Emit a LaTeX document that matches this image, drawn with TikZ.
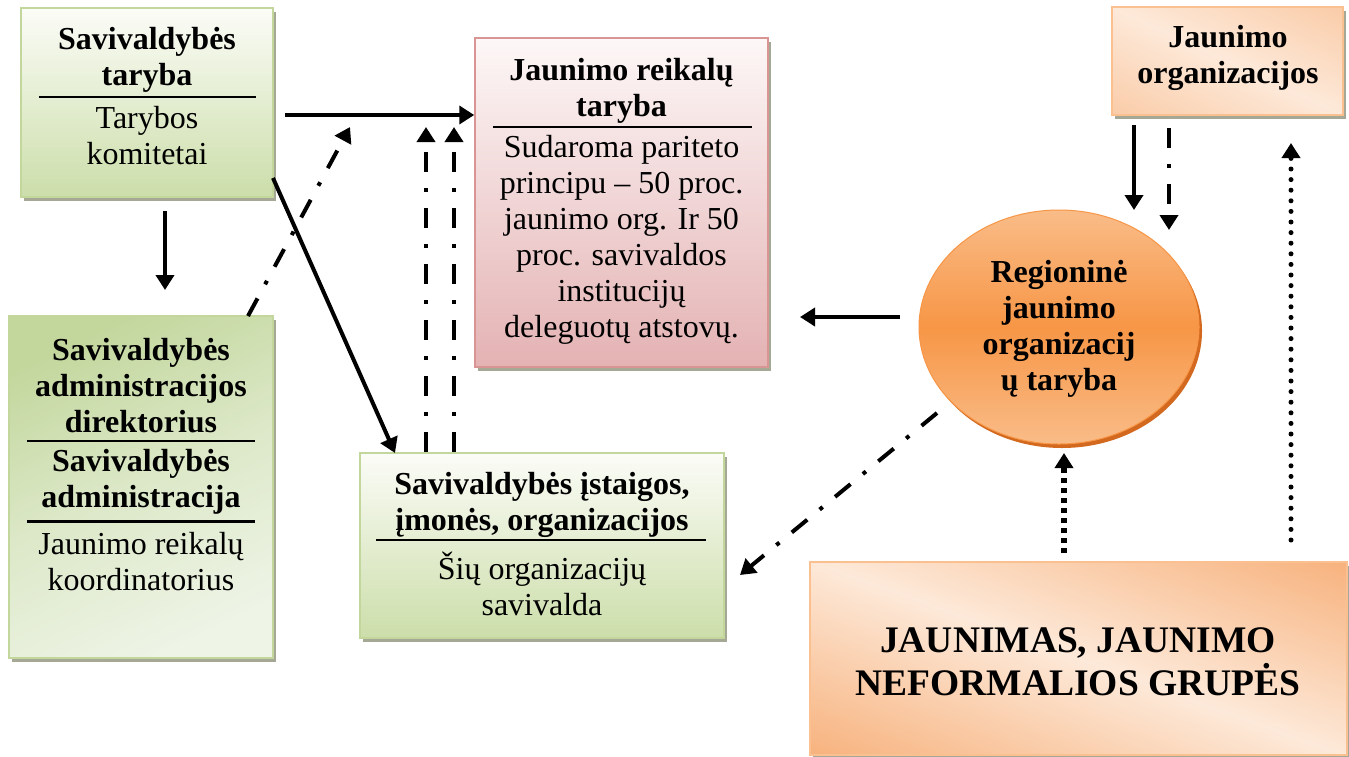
\documentclass[tikz,border=0pt]{standalone}
\usepackage{fontspec}
\setmainfont{Liberation Serif}
\usetikzlibrary{arrows.meta,shadows,shapes.geometric}
\definecolor{grBord}{HTML}{C3D69B}
\definecolor{grTop}{HTML}{FBFCF7}
\definecolor{grBot}{HTML}{CCDEAA}
\definecolor{grDark}{HTML}{C3D79D}
\definecolor{grLight}{HTML}{EEF4E6}
\definecolor{pkBord}{HTML}{D99594}
\definecolor{pkTop}{HTML}{FDF7F7}
\definecolor{pkBot}{HTML}{E4B2B3}
\definecolor{orBord}{HTML}{FAC090}
\definecolor{orLight}{HTML}{FDE9D9}
\definecolor{orMid}{HTML}{F9C79D}
\definecolor{orDark}{HTML}{F7B07A}
\definecolor{elMid}{HTML}{F79646}
\definecolor{elOut}{HTML}{F9BC88}
\definecolor{elRim}{HTML}{D2691E}
\definecolor{shd}{HTML}{A6A896}
\newcommand\mytxt{\fontsize{32}{36}\selectfont}
\newcommand\mybig{\fontsize{37.5}{43}\selectfont}
\begin{document}
\begin{tikzpicture}[x=1pt,y=-1pt,
  box/.style={rectangle, line width=1.5pt, inner sep=0pt,
    drop shadow={shadow xshift=3pt,shadow yshift=-4pt,fill=shd,opacity=1}},
  gbox/.style={box, draw=grBord, top color=grTop, bottom color=grBot},
  pbox/.style={box, draw=pkBord, top color=pkTop, bottom color=pkBot},
  obox/.style={box, draw=orBord},
  band/.style={fill=orDark, path picture={
      \begin{scope}[transform canvas={rotate around={#1:(path picture bounding box.center)}}]
      \shade[top color=orDark, bottom color=orDark, middle color=orLight]
        ([shift={(-500pt,-190pt)}]path picture bounding box.center) rectangle
        ([shift={(500pt,190pt)}]path picture bounding box.center);
      \end{scope}}},
  txt/.style={align=center, inner sep=0pt, font=\mytxt},
  htxt/.style={align=center, inner sep=0pt, font=\mytxt\bfseries},
  sep/.style={line width=2pt},
  tip/.style={-{Triangle[length=15pt,width=18pt]}},
  arr/.style={tip, line width=4pt},
  dd/.style={arr, dash pattern=on 20pt off 16pt on 4pt off 16pt},
  rdot/.style={tip, line width=5pt, line cap=round, dash pattern=on 0pt off 10.6pt},
  sdot/.style={tip, line width=6pt, dash pattern=on 5pt off 5pt}]
\useasboundingbox (0,0) rectangle (1349,756);
\fill[white] (0,0) rectangle (1349,756);

% boxes
\node[gbox, minimum width=252pt, minimum height=189pt] (b1) at (147,102.5) {};
\node[pbox, minimum width=293pt, minimum height=329pt] (jrt) at (621.5,202.5) {};
\node[box, draw=grBord, top color=grDark, bottom color=grLight, middle color=grLight!60!grDark,
      shading angle=25, minimum width=264pt, minimum height=342pt] (b3) at (141,487) {};
\node[gbox, minimum width=364pt, minimum height=185pt] (b4) at (542,545.5) {};
\node[obox, band=-25, minimum width=231pt, minimum height=108pt] (b5) at (1227.5,61) {};
\node[ellipse, draw=elMid, line width=1pt, top color=elOut, bottom color=elOut, middle color=elMid,
      drop shadow={shadow xshift=3pt,shadow yshift=-4pt,fill=elRim,opacity=1},
      minimum width=280pt, minimum height=234pt] (ell) at (1059,327) {};
\node[obox, band=-20, minimum width=537pt, minimum height=193pt] (b6) at (1078.5,658.5) {};

% texts
\node[htxt] (b1h) at (147,60) {Savivaldybės\\taryba};
\draw[sep] (39,97) -- (256,97);
\node[txt] (b1b) at (147,136) {Tarybos\\komitetai};

\node[htxt] (jrth) at (621.5,91) {Jaunimo reikalų\\taryba};
\draw[sep] (493,127) -- (752,127);
\node[txt] (jrtb) at (621.5,240) {Sudaroma pariteto\\principu – 50 proc.\\jaunimo org. Ir 50\\proc. savivaldos\\institucijų\\deleguotų atstovų.};

\node[htxt] (b3h) at (141,386) {Savivaldybės\\administracijos\\direktorius};
\draw[sep] (27,441) -- (255,441);
\node[htxt] (b3m) at (141,482) {Savivaldybės\\administracija};
\draw[line width=3pt] (27,521) -- (255,521);
\node[txt] (b3b) at (141,562) {Jaunimo reikalų\\koordinatorius};

\node[htxt] (b4h) at (542,505) {Savivaldybės įstaigos,\\įmonės, organizacijos};
\draw[sep] (376,540) -- (706,540);
\node[txt] (b4b) at (542,584) {Šių organizacijų\\savivalda};

\node[htxt] (b5t) at (1228,58) {Jaunimo\\organizacijos};
\node[htxt] (ellt) at (1059,329) {Regioninė\\jaunimo\\organizacij\\ų taryba};
\node[align=center, inner sep=0pt, font=\mybig\bfseries] (b6t) at (1078,662) {JAUNIMAS, JAUNIMO\\NEFORMALIOS GRUPĖS};

% connector end points
\coordinate (a1s) at (285,115);
\coordinate (a2s) at (273,178);
\coordinate (a2e) at (395,453);
\coordinate (a3s) at (248,316);
\coordinate (a3e) at (350,127);
\coordinate (a4s) at (426,452);
\coordinate (a4e) at (426,127);
\coordinate (a5s) at (454,452);
\coordinate (a5e) at (454,127);
\coordinate (a6s) at (165,211);
\coordinate (a6e) at (165,290);
\coordinate (a7s) at (900,317);
\coordinate (a7e) at (800,317);
\coordinate (a8s) at (1134,125);
\coordinate (a8e) at (1134,210);
\coordinate (a9s) at (1169,128);
\coordinate (a9e) at (1169,230);
\coordinate (a10s) at (1291,540);
\coordinate (a10e) at (1291,143);
\coordinate (a11s) at (1064,553);
\coordinate (a11e) at (1064,453);
\coordinate (a12s) at (937,413);
\coordinate (a12e) at (740,575);

% connectors
\draw[arr] (a1s) -- (a1s -| jrt.west);
\draw[arr] (a2s) -- (a2e);
\draw[dd] (a3s) -- (a3e);
\draw[dd] (a4s) -- (a4e);
\draw[dd] (a5s) -- (a5e);
\draw[arr] (a6s) -- (a6e);
\draw[arr] (a7s) -- (a7e);
\draw[arr] (a8s) -- (a8e);
\draw[dd] (a9s) -- (a9e);
\draw[rdot] (a10s) -- (a10e);
\draw[sdot] (a11s) -- (a11e);
\draw[dd] (a12s) -- (a12e);
\end{tikzpicture}
\end{document}
